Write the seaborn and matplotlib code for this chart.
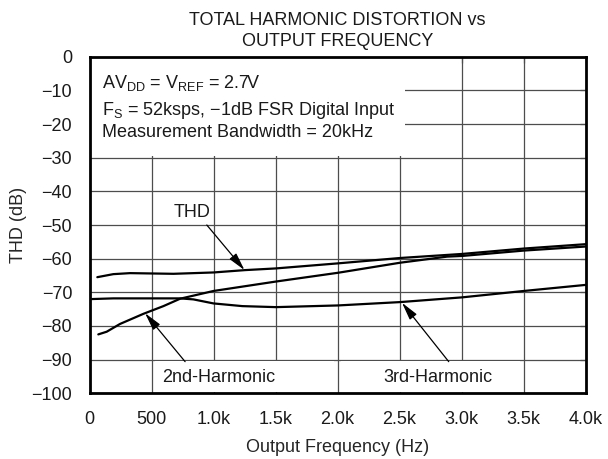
import numpy as np
import pandas as pd
import seaborn as sns
import matplotlib
matplotlib.use("Agg")
import matplotlib.pyplot as plt
from matplotlib.patches import Rectangle

# ---- data -------------------------------------------------------------
thd_freq = [63, 192, 327, 502, 677, 1000, 1255, 1503, 2003, 2506, 3004, 3502, 4000]
thd_db = [-65.5, -64.6, -64.3, -64.4, -64.5, -64.1, -63.4, -62.9, -61.4, -59.8, -58.6, -57.0, -55.7]

h2_freq = [71, 139, 246, 434, 596, 731, 1000, 1503, 2003, 2506, 2883, 3004, 3502, 4000]
h2_db = [-82.5, -81.7, -79.4, -76.4, -74.1, -71.9, -69.6, -66.8, -64.2, -61.2, -59.4, -59.2, -57.6, -56.4]

h3_freq = [20, 192, 502, 731, 838, 1000, 1233, 1503, 2003, 2506, 3004, 3502, 4000]
h3_db = [-72.0, -71.8, -71.8, -71.8, -72.1, -73.3, -74.1, -74.4, -73.9, -72.9, -71.5, -69.6, -67.8]

x_ticks = [0, 500, 1000, 1500, 2000, 2500, 3000, 3500, 4000]
x_tick_labels = ["0", "500", "1.0k", "1.5k", "2.0k", "2.5k", "3.0k", "3.5k", "4.0k"]
y_ticks = [0, -10, -20, -30, -40, -50, -60, -70, -80, -90, -100]
y_tick_labels = ["0", "\u221210", "\u221220", "\u221230", "\u221240", "\u221250",
                 "\u221260", "\u221270", "\u221280", "\u221290", "\u2212100"]

title_text = "TOTAL HARMONIC DISTORTION vs\nOUTPUT FREQUENCY"
x_label = "Output Frequency (Hz)"
y_label = "THD (dB)"
cond_lines = [
    r"AV$_{\mathregular{DD}}$ = V$_{\mathregular{REF}}$ = 2.7V",
    r"F$_{\mathregular{S}}$ = 52ksps, " + "\u22121dB FSR Digital Input",
    "Measurement Bandwidth = 20kHz",
]

# ---- style ------------------------------------------------------------
sns.set_theme(style="white")
plt.rcParams["font.family"] = ["Liberation Sans", "DejaVu Sans"]
plt.rcParams["mathtext.fontset"] = "custom"
plt.rcParams["mathtext.rm"] = "Liberation Sans"
plt.rcParams["mathtext.it"] = "Liberation Sans:italic"
plt.rcParams["mathtext.bf"] = "Liberation Sans:bold"
plt.rcParams["text.color"] = "#1a1a1a"
FS = 13

fig = plt.figure(figsize=(6.08, 4.59), dpi=100)
ax = fig.add_axes([89.5 / 608, 1 - 393.3 / 459, (585.5 - 89.5) / 608, (393.3 - 56.7) / 459])
ax.set_xlim(0, 4000)
ax.set_ylim(-100, 0)

# grid drawn under the white label panels
grid_kw = dict(color="#4d4d4d", lw=0.9, zorder=0.8)
for xv in x_ticks[1:-1]:
    ax.axvline(xv, **grid_kw)
for yv in y_ticks[1:-1]:
    ax.axhline(yv, **grid_kw)

# white panels behind the text blocks
panel_kw = dict(facecolor="white", edgecolor="none", zorder=1.0)
ax.add_patch(Rectangle((0, -29.6), 2545, 29.6, **panel_kw))
ax.add_patch(Rectangle((530, -99.6), 1440, 9.2, **panel_kw))
ax.add_patch(Rectangle((2030, -99.6), 1440, 9.2, **panel_kw))

# curves
line_kw = dict(color="black", linewidth=1.6, ax=ax, zorder=3, legend=False)
sns.lineplot(x=thd_freq, y=thd_db, **line_kw)
sns.lineplot(x=h2_freq, y=h2_db, **line_kw)
sns.lineplot(x=h3_freq, y=h3_db, **line_kw)

# axes decoration
ax.set_xticks(x_ticks)
ax.set_xticklabels(x_tick_labels)
ax.set_yticks(y_ticks)
ax.set_yticklabels(y_tick_labels)
ax.tick_params(axis="both", which="major", direction="in", length=4, width=0.9,
               color="#555555", labelsize=FS, pad=12.5, labelcolor="#1a1a1a",
               top=True, right=True)
for sp in ax.spines.values():
    sp.set_linewidth(2.0)
    sp.set_color("black")
    sp.set_zorder(5)

ax.set_xlabel(x_label, fontsize=FS, labelpad=8)
ax.set_ylabel(y_label, fontsize=FS, labelpad=3)
ax.set_title(title_text, fontsize=FS, pad=8, linespacing=1.25)

# condition notes
for txt, yb in zip(cond_lines, [-9.4, -17.3, -23.9]):
    ax.text(98, yb, txt, fontsize=FS, va="baseline", ha="left", zorder=4)

# curve labels with arrows
arrow = dict(arrowstyle="-|>,head_length=0.9,head_width=0.22", color="black",
             lw=0.9, shrinkA=0, shrinkB=0)
ax.text(825, -46.2, "THD", fontsize=FS, ha="center", va="center", zorder=4)
ax.annotate("", xy=(1250, -63.4), xytext=(946, -50.0), arrowprops=arrow, zorder=4)

ax.text(1040, -96.6, "2nd-Harmonic", fontsize=FS, ha="center", va="baseline", zorder=4)
ax.annotate("", xy=(448, -76.2), xytext=(771, -90.6), arrowprops=arrow, zorder=4)

ax.text(2812, -96.7, "3rd-Harmonic", fontsize=FS, ha="center", va="baseline", zorder=4)
ax.annotate("", xy=(2520, -73.1), xytext=(2897, -90.6), arrowprops=arrow, zorder=4)

fig.savefig("out.png", dpi=100)
